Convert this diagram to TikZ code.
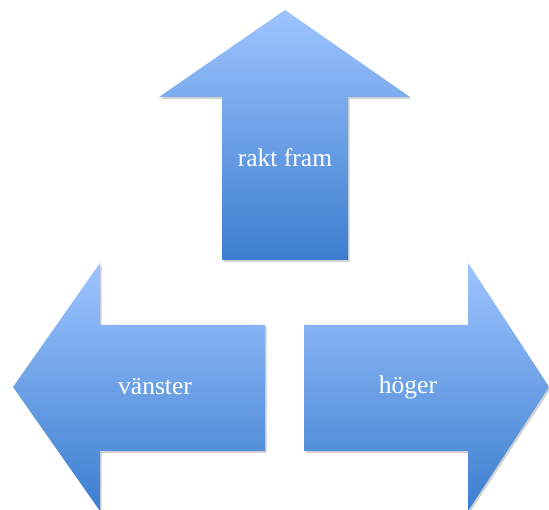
\documentclass[tikz,border=0pt]{standalone}
\usepackage{fontspec}
\setmainfont{Liberation Serif}
\usetikzlibrary{shadows}
\definecolor{arrtop}{HTML}{9EC4FF}
\definecolor{arrbot}{HTML}{3C7ECF}
\tikzset{
  arrowshape/.style={top color=arrtop, bottom color=arrbot, draw=none,
    drop shadow={shadow xshift=1.5pt, shadow yshift=-2pt, opacity=0.18, fill=black}},
  lbl/.style={text=white, font=\fontsize{25.5}{30}\selectfont, inner sep=0pt}
}
\begin{document}
\begin{tikzpicture}[x=1pt,y=-1pt]
\useasboundingbox (0,0) rectangle (549,510);
\clip (0,0) rectangle (549,510);
% up arrow
\path[arrowshape] (285,10) -- (410,97) -- (348,97) -- (348,260) -- (222,260) -- (222,97) -- (159,97) -- cycle;
% left arrow
\path[arrowshape] (13,387) -- (100,263) -- (100,325) -- (265,325) -- (265,451) -- (100,451) -- (100,511) -- cycle;
% right arrow
\path[arrowshape] (549,387) -- (468,263) -- (468,325) -- (304,325) -- (304,451) -- (468,451) -- (468,511) -- cycle;
\node[lbl] (up) at (285,158) {rakt fram};
\node[lbl] (left) at (155,387) {vänster};
\node[lbl] (right) at (408,387) {höger};
\end{tikzpicture}
\end{document}
